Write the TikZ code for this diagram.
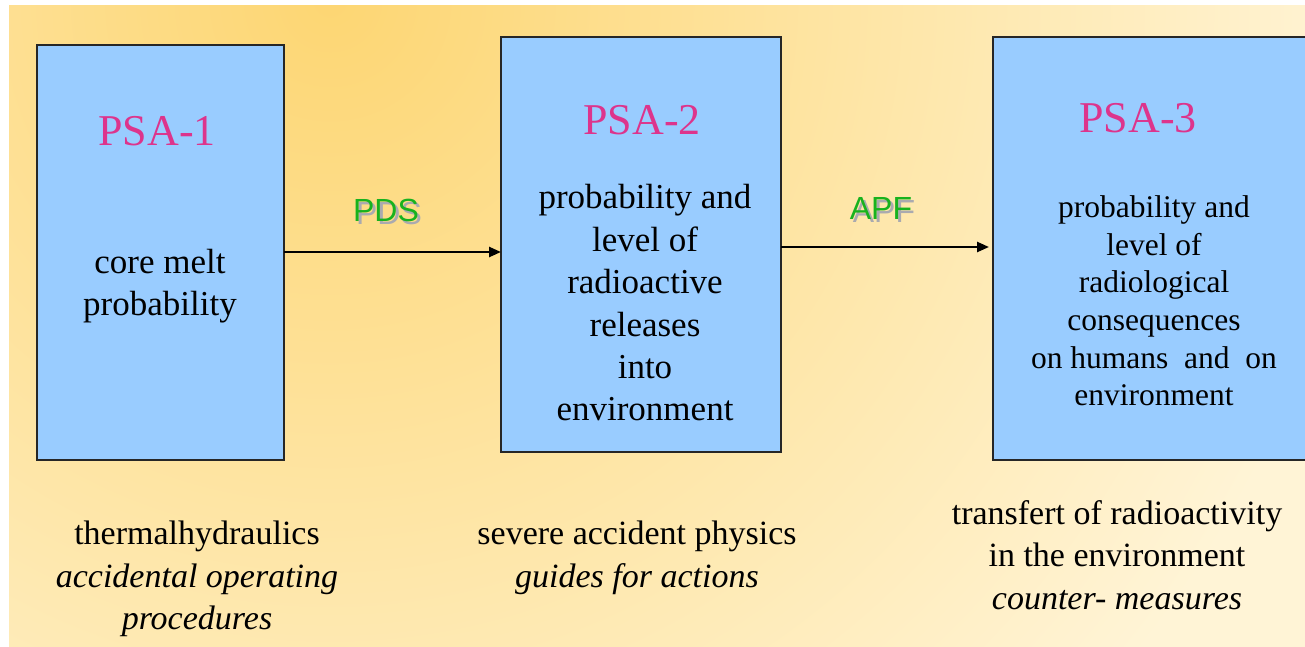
\documentclass[tikz,border=0pt]{standalone}
\usepackage{fontspec}
\setmainfont{Liberation Serif}
\newfontfamily\labelsans{Liberation Sans}
\usetikzlibrary{arrows.meta}

\definecolor{bgyellow}{RGB}{253,214,115}
\definecolor{bgcream}{RGB}{255,244,214}
\definecolor{boxblue}{RGB}{153,204,255}
\definecolor{psapink}{RGB}{221,52,140}
\definecolor{flowgreen}{RGB}{24,178,30}
\definecolor{shadowgray}{RGB}{170,170,175}

% green flow label with a soft grey drop shadow
\newcommand{\shadowedlabel}[1]{%
  \makebox[0pt][l]{\hspace{3pt}\raisebox{-3pt}{\textcolor{shadowgray}{#1}}}#1}

\tikzset{
  psabox/.style={draw=black!85, line width=1.3pt, fill=boxblue, inner sep=0pt, outer sep=0pt},
  psatitle/.style={text=psapink, font=\fontsize{44}{50}\selectfont, inner sep=0pt},
  boxtext/.style={align=center, inner sep=0pt, font=\fontsize{35}{42.4}\selectfont},
  smalltext/.style={align=center, inner sep=0pt, font=\fontsize{31.5}{37.6}\selectfont},
  notetext/.style={align=center, inner sep=0pt, font=\fontsize{34}{42.6}\selectfont},
  flowlabel/.style={text=flowgreen, font=\labelsans\fontsize{32}{36}\selectfont, inner sep=0pt},
  flowarrow/.style={line width=2.4pt, -{Triangle[length=12pt,width=10pt]}}
}

\begin{document}
\begin{tikzpicture}[x=1pt,y=-1pt]
  \useasboundingbox (0,0) rectangle (1305,647);

  % background with warm gradient from the upper left
  \begin{scope}
    \clip (9,6) rectangle (1305,647);
    \fill[bgcream] (9,6) rectangle (1305,647);
    \shade[inner color=bgyellow, outer color=bgcream] (330,0) circle (1040pt);
  \end{scope}

  \begin{scope}
    \clip (0,0) rectangle (1305,647);

    % the three PSA levels
    \node[psabox, minimum width=247, minimum height=415] (b1) at (160.5,252.5) {};
    \node[psabox, minimum width=280, minimum height=415] (b2) at (641,244.5) {};
    \node[psabox, minimum width=327, minimum height=423] (b3) at (1156.5,248.5) {};

    \node[psatitle] (t1) at (157,131) {PSA-1};
    \node[boxtext] (c1) at (160,286) {core melt\\probability};

    \node[psatitle] (t2) at (642,120) {PSA-2};
    \node[boxtext] (c2) at (645,303) {probability and\\level of\\radioactive\\releases\\into\\environment};

    \node[psatitle] (t3) at (1138,118) {PSA-3};
    \node[smalltext] (c3) at (1154,301) {probability and\\level of\\radiological\\consequences\\on humans\ \ and\ \ on\\environment};

    % connectors between levels
    \draw[flowarrow] ([yshift=0.5pt]b1.east) -- ([yshift=0.5pt]b1.east -| b2.west);
    \draw[flowarrow, shorten >=4pt] ([yshift=-2.5pt]b2.east) -- ([yshift=-2.5pt]b2.east -| b3.west);

    \node[flowlabel] (l1) at (386,212) {\shadowedlabel{PDS}};
    \node[flowlabel] (l2) at (881,210) {\shadowedlabel{APF}};

    % disciplines under each level
    \node[notetext] (n1) at (197,579) {thermalhydraulics\\\textit{accidental operating}\\\textit{procedures}};
    \node[notetext] (n2) at (637,558) {severe accident physics\\\textit{guides for actions}};
    \node[notetext] (n3) at (1117,555) {transfert of radioactivity\\in the environment\\\textit{counter- measures}};
  \end{scope}
\end{tikzpicture}
\end{document}
